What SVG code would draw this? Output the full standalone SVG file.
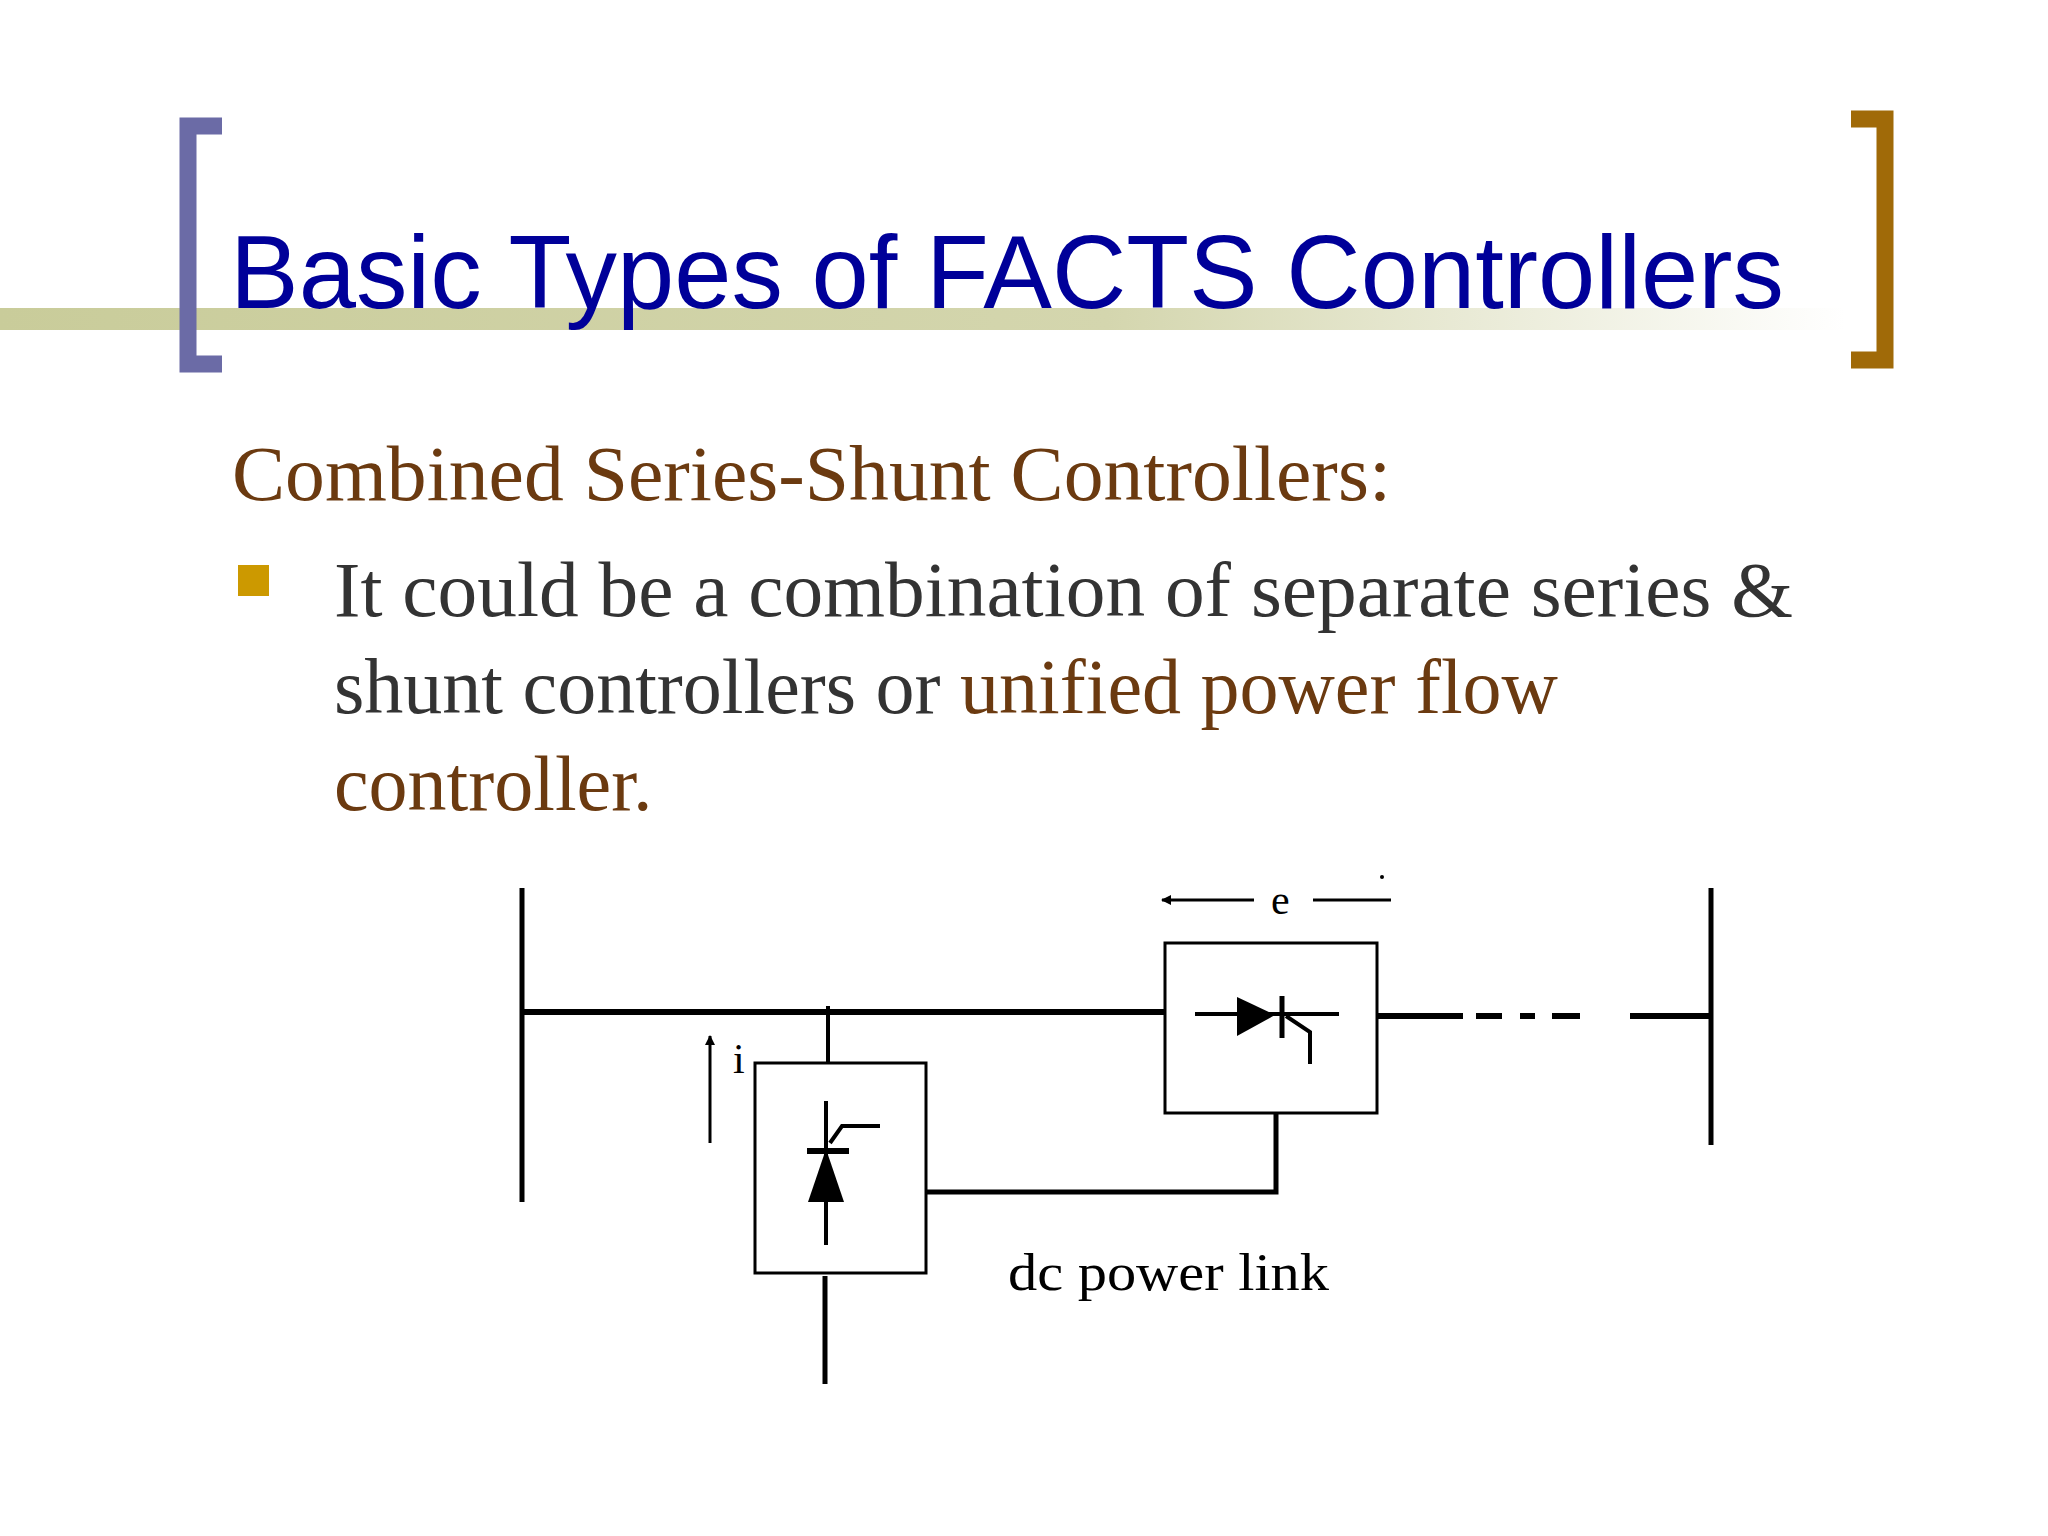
<svg xmlns="http://www.w3.org/2000/svg" width="2048" height="1536" viewBox="0 0 2048 1536">
<defs>
<linearGradient id="band" x1="0" x2="1" y1="0" y2="0">
<stop offset="0" stop-color="#c9cc9a"/><stop offset="0.6" stop-color="#d4d6ae"/><stop offset="1" stop-color="#ffffff"/>
</linearGradient>
<marker id="ah" markerWidth="10" markerHeight="10" refX="9" refY="5" orient="auto" markerUnits="userSpaceOnUse"><path d="M0,0 L10,5 L0,10 Z" fill="#000"/></marker>
</defs>
<style>
.w{stroke:#000;fill:none}
.body{font-family:"Liberation Serif",serif;font-size:78px}
</style>
<rect width="2048" height="1536" fill="#fff"/>
<rect x="0" y="308" width="1845" height="22" fill="url(#band)"/>
<g id="brackets">
<path d="M222,126 H188 V364 H222" fill="none" stroke="#6b6ba6" stroke-width="17"/>
<path d="M1851,119 H1885 V360 H1851" fill="none" stroke="#a06a08" stroke-width="17"/>
</g>
<text x="230" y="308" font-family="Liberation Sans,Arial,sans-serif" font-size="104" fill="#000099" textLength="1554" lengthAdjust="spacingAndGlyphs">Basic Types of FACTS Controllers</text>
<text x="232" y="500" class="body" fill="#6b3a10" textLength="1159" lengthAdjust="spacingAndGlyphs">Combined Series-Shunt Controllers:</text>
<rect x="238" y="565" width="31" height="31" fill="#cc9900"/>
<text x="334" y="616" class="body" fill="#333" textLength="1459" lengthAdjust="spacingAndGlyphs">It could be a combination of separate series &amp;</text>
<text x="334" y="713" class="body" fill="#333">shunt controllers or <tspan fill="#6b3a10">unified power flow</tspan></text>
<text x="334" y="810" class="body" fill="#6b3a10">controller.</text>
<g id="connectors">
<line class="w" x1="522" y1="888" x2="522" y2="1202" stroke-width="5"/>
<line class="w" x1="1711" y1="888" x2="1711" y2="1145" stroke-width="5"/>
<line class="w" x1="522" y1="1012" x2="1165" y2="1012" stroke-width="6"/>
<line class="w" x1="1377" y1="1016" x2="1463" y2="1016" stroke-width="6"/>
<path class="w" d="M1476,1016 H1502 M1520,1016 H1535 M1552,1016 H1580" stroke-width="6"/>
<line class="w" x1="1630" y1="1016" x2="1711" y2="1016" stroke-width="6"/>
<line class="w" x1="828" y1="1006" x2="828" y2="1063" stroke-width="4"/>
<line class="w" x1="825" y1="1276" x2="825" y2="1384" stroke-width="5"/>
<path class="w" d="M926,1192 H1276 V1113" stroke-width="5"/>
<line class="w" x1="1254" y1="900" x2="1162" y2="900" stroke-width="3" marker-end="url(#ah)"/>
<line class="w" x1="1313" y1="900" x2="1391" y2="900" stroke-width="3"/>
<line class="w" x1="710" y1="1143" x2="710" y2="1036" stroke-width="3" marker-end="url(#ah)"/>
</g>
<circle cx="1382" cy="877" r="2" fill="#000"/>
<text x="1271" y="914" font-family="Liberation Serif,serif" font-size="42">e</text>
<text x="733" y="1073" font-family="Liberation Serif,serif" font-size="42">i</text>
<g id="series">
<rect x="1165" y="943" width="212" height="170" fill="#fff" stroke="#000" stroke-width="3"/>
<line class="w" x1="1195" y1="1014" x2="1339" y2="1014" stroke-width="4"/>
<path d="M1237,997 L1275,1015 L1237,1036 Z" fill="#000"/>
<line class="w" x1="1282" y1="996" x2="1282" y2="1038" stroke-width="5"/>
<path class="w" d="M1286,1016 L1310,1032 V1064" stroke-width="4"/>
</g>
<g id="shunt">
<rect x="755" y="1063" width="171" height="210" fill="#fff" stroke="#000" stroke-width="3"/>
<line class="w" x1="826" y1="1101" x2="826" y2="1245" stroke-width="4"/>
<path d="M826,1149 L844,1202 L808,1202 Z" fill="#000"/>
<line class="w" x1="807" y1="1151" x2="849" y2="1151" stroke-width="6"/>
<path class="w" d="M830,1143 L842,1126 H880" stroke-width="4"/>
</g>
<text x="1008" y="1290" font-family="Liberation Serif,serif" font-size="52" textLength="321" lengthAdjust="spacingAndGlyphs">dc power link</text>
</svg>
